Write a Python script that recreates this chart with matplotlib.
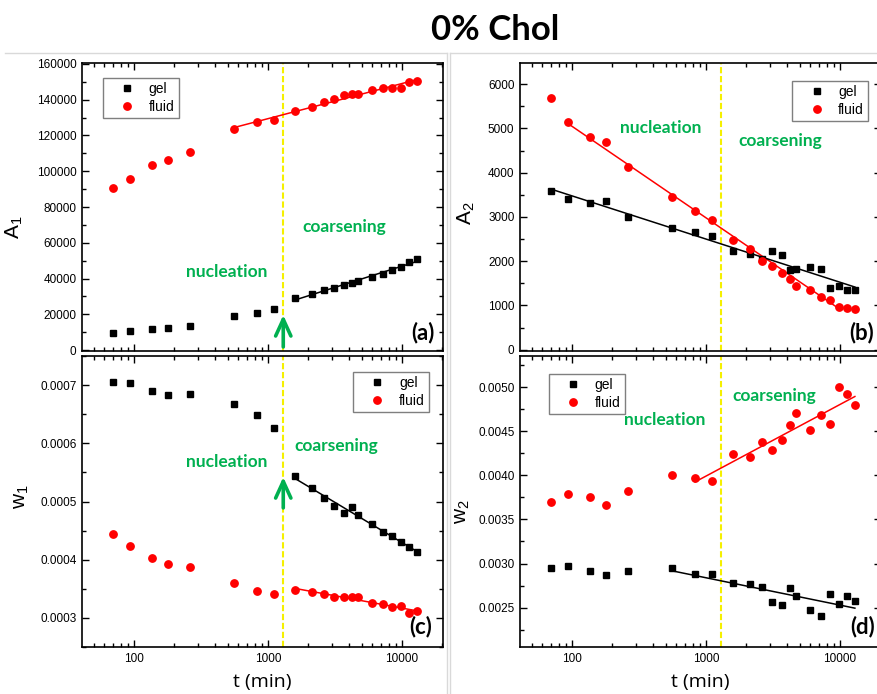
import numpy as np
import matplotlib.pyplot as plt
from matplotlib.ticker import MultipleLocator, FormatStrFormatter, LogLocator, NullFormatter
from matplotlib.lines import Line2D

plt.rcParams['font.family'] = ['Liberation Sans', 'DejaVu Sans']
plt.rcParams['mathtext.default'] = 'regular'

# time points (min), shared by all panels
t = [70, 94, 136, 180, 260, 560, 830, 1100, 1600, 2120, 2630, 3130, 3710,
     4210, 4720, 5940, 7220, 8470, 9840, 11300, 12900]

# (a) A1
A1_gel = [9650, 10600, 11700, 12400, 13700, 18900, 21000, 22800, 29000, 31400,
          33400, 34900, 36400, 37500, 38600, 40800, 42700, 44600, 46600, 49000, 51200]
A1_fluid = [90600, 95800, 103200, 106400, 111000, 123600, 127300, 128600, 133600,
            135900, 138800, 140100, 142400, 143100, 143100, 145300, 146500, 146800,
            146600, 150000, 150200]

# (b) A2
A2_gel = [3590, 3400, 3310, 3350, 2990, 2740, 2660, 2560, 2230, 2160, 2040, 2240,
          2140, 1790, 1820, 1870, 1820, 1400, 1450, 1340, 1350]
A2_fluid = [5680, 5150, 4810, 4700, 4130, 3455, 3135, 2920, 2480, 2275, 2015, 1895,
            1740, 1590, 1440, 1345, 1195, 1120, 955, 940, 910]

# (c) w1
w1_gel = [0.000705, 0.000703, 0.000690, 0.000683, 0.000684, 0.000668, 0.000648,
          0.000626, 0.000543, 0.000524, 0.000506, 0.000493, 0.000481, 0.000490,
          0.000477, 0.000461, 0.000448, 0.000441, 0.000430, 0.000422, 0.000414]
w1_fluid = [0.000444, 0.000423, 0.000403, 0.000393, 0.000387, 0.000360, 0.000346,
            0.000341, 0.000348, 0.000345, 0.000341, 0.000336, 0.000336, 0.000336,
            0.000336, 0.000326, 0.000324, 0.000318, 0.000320, 0.000309, 0.000312]

# (d) w2
w2_gel = [0.002950, 0.002969, 0.002916, 0.002874, 0.002920, 0.002950, 0.002878,
          0.002882, 0.002784, 0.002765, 0.002734, 0.002561, 0.002526, 0.002727,
          0.002632, 0.002470, 0.002402, 0.002655, 0.002538, 0.002629, 0.002576]
w2_fluid = [0.003695, 0.003790, 0.003756, 0.003669, 0.003820, 0.003998, 0.003971,
            0.003933, 0.004240, 0.004213, 0.004383, 0.004285, 0.004399, 0.004565,
            0.004705, 0.004508, 0.004679, 0.004576, 0.004996, 0.004921, 0.004792]

t_cross = 1300
green = '#00b050'
yellow = '#f5f000'

W, H = 877, 694
fig = plt.figure(figsize=(W / 100, H / 100), dpi=100)


def add_ax(left, top, right, bottom):
    return fig.add_axes([left / W, 1 - bottom / H, (right - left) / W, (bottom - top) / H])


def fit_line(ax, y, i0, i1, color, j0=None, j1=None):
    x = np.asarray(t, float)
    y = np.asarray(y, float)
    p = np.polyfit(np.log10(x[i0:i1 + 1]), y[i0:i1 + 1], 1)
    j0 = i0 if j0 is None else j0
    j1 = i1 if j1 is None else j1
    xs = x[j0:j1 + 1]
    ax.plot(xs, np.polyval(p, np.log10(xs)), color=color, lw=1.1, zorder=2)


def style(ax, ylim, major, minor, fmt, show_x):
    ax.set_xscale('log')
    ax.set_xlim(41, 20200)
    ax.set_ylim(*ylim)
    ax.set_xticks([100, 1000, 10000])
    ax.set_xticklabels(['100', '1000', '10000'] if show_x else [])
    ax.xaxis.set_minor_locator(LogLocator(base=10, subs=np.arange(2, 10)))
    ax.xaxis.set_minor_formatter(NullFormatter())
    ax.yaxis.set_major_locator(MultipleLocator(major))
    ax.yaxis.set_minor_locator(MultipleLocator(minor))
    ax.yaxis.set_major_formatter(FormatStrFormatter(fmt))
    ax.tick_params(which='both', direction='in', top=True, right=True,
                   labelsize=8.5, pad=4, width=1)
    ax.tick_params(which='major', length=5)
    ax.tick_params(which='minor', length=3)
    for s in ax.spines.values():
        s.set_linewidth(1.2)


def draw(ax, gel, fluid):
    ax.axvline(t_cross, color=yellow, lw=1.5, ls=(0, (3, 1.3)), zorder=1)
    ax.plot(t, gel, 's', color='black', ms=4.8, ls='none', label='gel', zorder=3)
    ax.plot(t, fluid, 'o', color='red', ms=5.3, ls='none', label='fluid', zorder=4)


def legend(ax, loc, anchor):
    lg = ax.legend(loc=loc, bbox_to_anchor=anchor, fontsize=10, handlelength=2.9,
                   handletextpad=0.1, borderpad=0.3, labelspacing=0.25,
                   borderaxespad=0, fancybox=False, framealpha=1)
    lg.get_frame().set_edgecolor('#7f7f7f')
    lg.get_frame().set_linewidth(1)


def words(ax, nuc, coa, tag):
    kw = dict(transform=ax.transAxes, color=green, fontfamily='Lato',
              fontweight='bold', fontsize=12.5, ha='center', va='center')
    ax.text(*nuc, 'nucleation', **kw)
    ax.text(*coa, 'coarsening', **kw)
    ax.text(*tag[1:], tag[0], transform=ax.transAxes, fontfamily='Lato',
            fontweight='bold', fontsize=16, ha='center', va='center')


def arrow(ax, y0, y1):
    ax.annotate('', xy=(t_cross, y1), xytext=(t_cross, y0),
                xycoords=('data', 'axes fraction'), textcoords=('data', 'axes fraction'),
                arrowprops=dict(arrowstyle='->,head_length=1.2,head_width=0.55',
                                color=green, lw=2.6, mutation_scale=10, shrinkA=0, shrinkB=0))


# (a)
axa = add_ax(82, 63, 443, 351)
draw(axa, A1_gel, A1_fluid)
fit_line(axa, A1_fluid, 5, 20, 'red')
fit_line(axa, A1_gel, 8, 20, 'black')
style(axa, (-500, 160500), 20000, 10000, '%d', False)
axa.set_ylabel('A$_1$', fontsize=15)
axa.yaxis.set_label_coords(-0.158, 0.43)
legend(axa, 'upper left', (0.058, 0.948))
words(axa, (0.402, 0.274), (0.726, 0.431), ('(a)', 0.945, 0.0625))
arrow(axa, 0.014, 0.125)

# (b)
axb = add_ax(520, 63, 881, 351)
draw(axb, A2_gel, A2_fluid)
fit_line(axb, A2_fluid, 1, 20, 'red', 1, 18)
fit_line(axb, A2_gel, 0, 20, 'black')
style(axb, (-30, 6480), 1000, 500, '%d', False)
axb.set_ylabel('A$_2$', fontsize=15)
axb.yaxis.set_label_coords(-0.12, 0.479)
legend(axb, 'upper right', (0.964, 0.9375))
words(axb, (0.391, 0.774), (0.720, 0.729), ('(b)', 0.947, 0.0625))

# (c)
axc = add_ax(82, 356, 443, 647)
draw(axc, w1_gel, w1_fluid)
fit_line(axc, w1_gel, 8, 20, 'black')
fit_line(axc, w1_fluid, 8, 20, 'red')
style(axc, (0.00025, 0.00075), 0.0001, 0.00005, '%.4f', True)
axc.set_ylabel('w$_1$', fontsize=15)
axc.yaxis.set_label_coords(-0.142, 0.515)
axc.set_xlabel('t (min)', fontsize=14, fontfamily='Open Sans')
axc.xaxis.set_label_coords(0.499, -0.088)
legend(axc, 'upper right', (0.961, 0.945))
words(axc, (0.402, 0.636), (0.704, 0.691), ('(c)', 0.939, 0.069))
arrow(axc, 0.478, 0.584)

# (d)
axd = add_ax(520, 356, 881, 647)
draw(axd, w2_gel, w2_fluid)
fit_line(axd, w2_fluid, 6, 20, 'red')
fit_line(axd, w2_gel, 5, 20, 'black')
style(axd, (0.002054, 0.005352), 0.0005, 0.00025, '%.4f', True)
axd.set_ylabel('w$_2$', fontsize=15)
axd.yaxis.set_label_coords(-0.134, 0.464)
axd.set_xlabel('t (min)', fontsize=14, fontfamily='Open Sans')
axd.xaxis.set_label_coords(0.499, -0.088)
legend(axd, 'upper left', (0.080, 0.938))
words(axd, (0.402, 0.780), (0.704, 0.863), ('(d)', 0.950, 0.069))

# faint frames of the pasted images
for xs, ys in [([5, 447], [53, 53]), ([447, 447], [53, 694]),
               ([450, 877], [53, 53]), ([450, 450], [53, 694])]:
    fig.add_artist(Line2D([x / W for x in xs], [1 - y / H for y in ys],
                          transform=fig.transFigure, color='#d9d9d9', lw=1))

fig.text(495 / W, 1 - 30 / H, '0% Chol', fontfamily='Lato', fontweight='bold',
         fontsize=25, ha='center', va='center')

fig.savefig('out.png', dpi=100)
